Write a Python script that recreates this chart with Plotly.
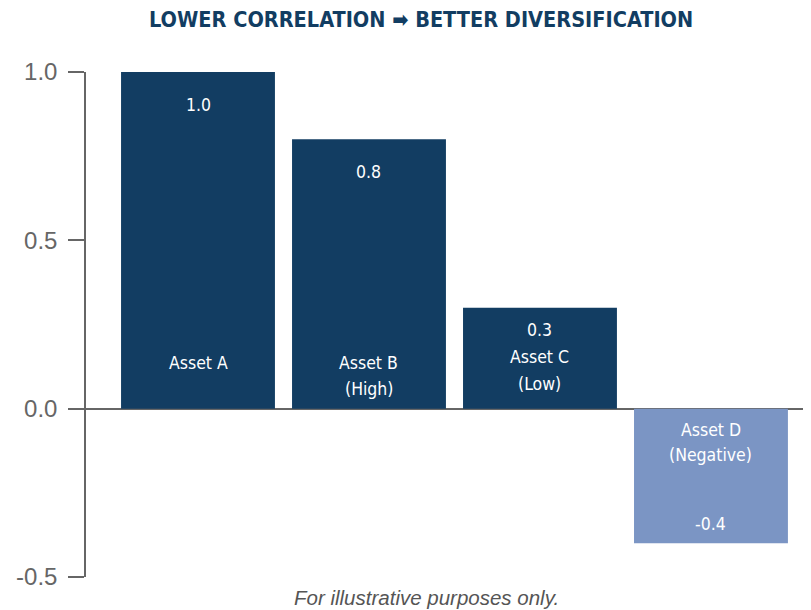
import plotly.graph_objects as go

categories = ["Asset A", "Asset B", "Asset C", "Asset D"]
values = [1.0, 0.8, 0.3, -0.4]
value_labels = ["1.0", "0.8", "0.3", "-0.4"]
name_lines = [["Asset A"], ["Asset B", "(High)"], ["Asset C", "(Low)"], ["Asset D", "(Negative)"]]
tick_vals = [-0.5, 0.0, 0.5, 1.0]
tick_text = ["-0.5", "0.0", "0.5", "1.0"]

DARK = "#123d62"
LIGHT = "#7b95c4"
bar_colors = [DARK if v > 0 else LIGHT for v in values]

COND = "DejaVu Sans Condensed, Liberation Sans Narrow, DejaVu Sans, sans-serif"
LBL = dict(family=COND, size=17.5, color="white")


def cond(t):
    return '<span style="font-stretch:condensed">' + t + '</span>'


fig = go.Figure(go.Bar(x=categories, y=values, marker=dict(color=bar_colors, line=dict(width=0)),
                       hoverinfo="skip"))

ann = []
LS = 26  # line spacing px
for i, (c, v) in enumerate(zip(categories, values)):
    lines = name_lines[i]
    if i in (0, 1):
        ann.append(dict(x=c, y=v, text=value_labels[i], yshift=-33))
        for j, t in enumerate(lines):
            ann.append(dict(x=c, y=0, text=t, yshift=46 - j * LS))
    elif i == 2:
        allines = [value_labels[i]] + lines
        for j, t in enumerate(allines):
            ann.append(dict(x=c, y=v, text=t, yshift=-22 - j * 27))
    else:
        for j, t in enumerate(lines):
            ann.append(dict(x=c, y=0, text=t, yshift=-21 - j * 25))
        ann.append(dict(x=c, y=v, text=value_labels[i], yshift=19))

annotations = []
for a in ann:
    a["text"] = cond(a["text"])
    a.update(xref="x", yref="y", showarrow=False, font=LBL, yanchor="middle", xanchor="center")
    annotations.append(a)

annotations.append(dict(xref="paper", yref="paper", x=0.462, y=1, yshift=53, yanchor="middle",
                        text=cond("<b>LOWER CORRELATION \u27a1 BETTER DIVERSIFICATION</b>"),
                        showarrow=False,
                        font=dict(family=COND, size=21.5, color="#123d62")))
annotations.append(dict(xref="paper", yref="paper", x=0.469, y=0, yshift=-20, yanchor="middle",
                        text="<i>For illustrative purposes only.</i>", showarrow=False,
                        font=dict(family="Liberation Sans, Arial, sans-serif", size=20.5, color="#555555")))

fig.update_layout(
    width=803, height=602,
    margin=dict(l=78, r=0, t=64, b=33),
    paper_bgcolor="white", plot_bgcolor="white",
    bargap=0.1,
    showlegend=False,
    annotations=annotations,
    xaxis=dict(range=[-0.655, 3.585], showticklabels=False, showgrid=False, showline=False,
               zeroline=False, ticks=""),
    yaxis=dict(range=[-0.5, 1.0], tickvals=tick_vals, ticktext=tick_text, showgrid=False,
               showline=True, linecolor="#666666", linewidth=1.5,
               ticks="outside", ticklen=16, tickcolor="#666666", tickwidth=1.5,
               zeroline=True, zerolinecolor="#666666", zerolinewidth=1.5,
               tickfont=dict(family="Liberation Sans, Arial, sans-serif", size=24, color="#666666"),
               ticklabelstandoff=6),
)

fig.write_html("out.html")
